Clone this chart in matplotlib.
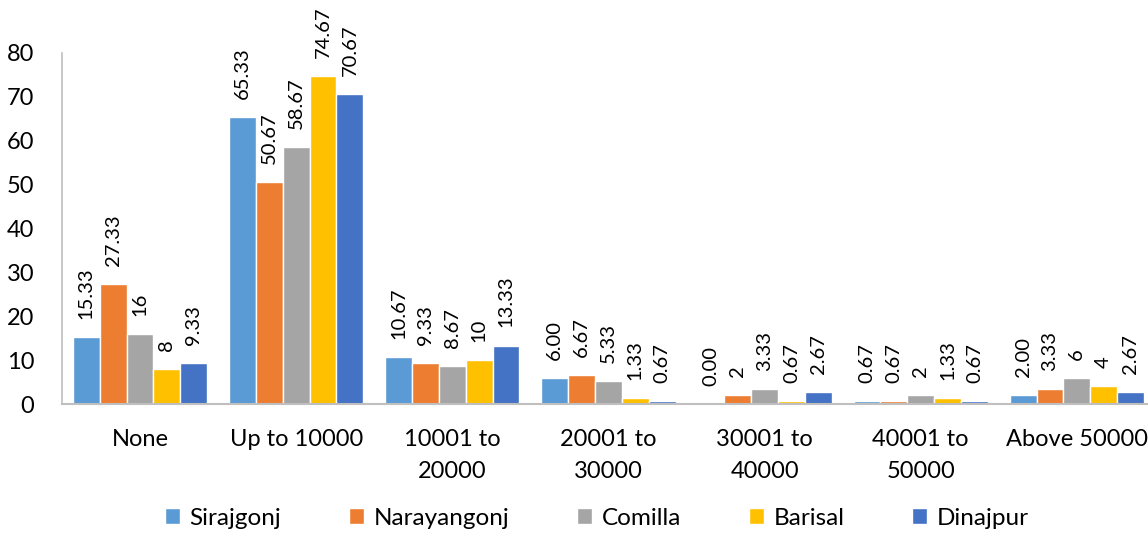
import matplotlib.pyplot as plt
import numpy as np

plt.rcParams['font.family'] = ['Lato', 'DejaVu Sans']

categories = ["None", "Up to 10000", "10001 to\n20000", "20001 to\n30000",
              "30001 to\n40000", "40001 to\n50000", "Above 50000"]
districts = ["Sirajgonj", "Narayangonj", "Comilla", "Barisal", "Dinajpur"]
colors = ["#5B9BD5", "#ED7D31", "#A5A5A5", "#FFC000", "#4472C4"]

sirajgonj = [15.33, 65.33, 10.67, 6.00, 0.00, 0.67, 2.00]
narayangonj = [27.33, 50.67, 9.33, 6.67, 2, 0.67, 3.33]
comilla = [16, 58.67, 8.67, 5.33, 3.33, 2, 6]
barisal = [8, 74.67, 10, 1.33, 0.67, 1.33, 4]
dinajpur = [9.33, 70.67, 13.33, 0.67, 2.67, 0.67, 2.67]

# label text as printed on each bar
sirajgonj_lbl = ["15.33", "65.33", "10.67", "6.00", "0.00", "0.67", "2.00"]
narayangonj_lbl = ["27.33", "50.67", "9.33", "6.67", "2", "0.67", "3.33"]
comilla_lbl = ["16", "58.67", "8.67", "5.33", "3.33", "2", "6"]
barisal_lbl = ["8", "74.67", "10", "1.33", "0.67", "1.33", "4"]
dinajpur_lbl = ["9.33", "70.67", "13.33", "0.67", "2.67", "0.67", "2.67"]

series = [sirajgonj, narayangonj, comilla, barisal, dinajpur]
labels = [sirajgonj_lbl, narayangonj_lbl, comilla_lbl, barisal_lbl, dinajpur_lbl]

fig = plt.figure(figsize=(11.48, 5.33), dpi=100)
ax = fig.add_axes([0.054, 0.242, 0.952, 0.6586])

x = np.arange(len(categories))
w = 0.86 / 5
for i, (vals, lbls) in enumerate(zip(series, labels)):
    pos = x - 0.43 + w * (i + 0.5)
    bars = ax.bar(pos, vals, w, color=colors[i], edgecolor="white",
                  linewidth=1.0, label=districts[i])
    for b, t in zip(bars, lbls):
        ax.annotate(t, (b.get_x() + b.get_width() / 2, b.get_height()),
                    xytext=(0, 13), textcoords="offset points",
                    ha="center", va="bottom", rotation=90,
                    fontsize=14.5, color="#000000", annotation_clip=False)

ax.set_xlim(-0.5, 6.5)
ax.set_ylim(0, 80)
ax.set_yticks(range(0, 81, 10))
ax.set_xticks(x)
ax.set_xticklabels(categories, linespacing=1.65, va="top")
ax.tick_params(axis="both", length=0, labelsize=17)
ax.tick_params(axis="x", pad=18)
ax.tick_params(axis="y", pad=20)

for s in ["top", "right"]:
    ax.spines[s].set_visible(False)
ax.spines["left"].set_color("#BFBFBF")
ax.spines["bottom"].set_color("#BFBFBF")
ax.spines["left"].set_linewidth(1.2)
ax.spines["bottom"].set_linewidth(1.5)

fig.legend(loc="center", bbox_to_anchor=(0.52, 0.028), ncol=5, frameon=False,
           fontsize=17.5, handlelength=0.6, handleheight=0.6, handletextpad=0.4,
           columnspacing=2.8)

fig.savefig("out.png", dpi=100)
